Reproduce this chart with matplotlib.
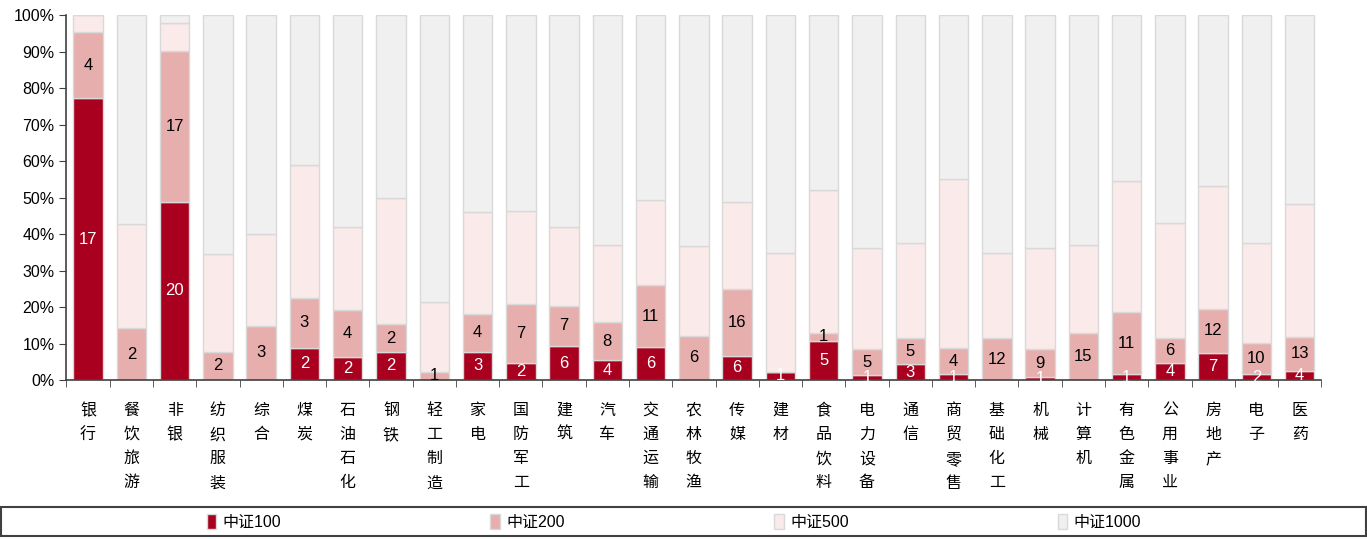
import matplotlib.pyplot as plt
import numpy as np
from matplotlib.patches import Rectangle
from matplotlib.ticker import PercentFormatter

plt.rcParams['font.family'] = ['Liberation Sans', 'Noto Sans CJK SC', 'DejaVu Sans']

industries = ['银行', '餐饮旅游', '非银', '纺织服装', '综合', '煤炭', '石油石化', '钢铁',
              '轻工制造', '家电', '国防军工', '建筑', '汽车', '交通运输', '农林牧渔', '传媒',
              '建材', '食品饮料', '电力设备', '通信', '商贸零售', '基础化工', '机械',
              '计算机', '有色金属', '公用事业', '房地产', '电子', '医药']

# share (%) of each index within the industry
csi100 = [77.2, 0, 48.8, 0, 0, 8.9, 6.3, 7.7, 0, 7.8, 4.7, 9.3, 5.4, 9.0, 0, 6.7,
          2.3, 10.8, 1.3, 4.3, 1.6, 0, 0.9, 0, 1.6, 4.7, 7.4, 1.6, 2.6]
csi200 = [18.2, 14.2, 41.3, 7.8, 14.9, 13.7, 13.0, 7.6, 2.3, 10.2, 16.2, 11.0, 10.5, 17.0, 12.1, 18.3,
          0, 2.1, 7.1, 7.1, 7.1, 11.4, 7.5, 12.9, 16.9, 6.7, 12.1, 8.5, 9.2]
csi500 = [4.6, 28.5, 7.6, 26.7, 25.0, 36.3, 22.7, 34.7, 19.0, 28.1, 25.5, 21.7, 21.0, 23.2, 24.5, 23.8,
          32.6, 39.3, 27.9, 26.2, 46.5, 23.5, 27.9, 24.0, 36.0, 31.6, 33.7, 27.5, 36.3]
csi1000 = [0, 57.3, 2.3, 65.5, 60.1, 41.1, 58.0, 50.0, 78.7, 53.9, 53.6, 58.0, 63.1, 50.8, 63.4, 51.2,
           65.1, 47.8, 63.7, 62.4, 44.8, 65.1, 63.7, 63.1, 45.5, 57.0, 46.8, 62.4, 51.9]

# number of stocks shown as labels
n100 = [17, 0, 20, 0, 0, 2, 2, 2, 0, 3, 2, 6, 4, 6, 0, 6, 1, 5, 1, 3, 1, 0, 1, 0, 1, 4, 7, 2, 4]
n200 = [4, 2, 17, 2, 3, 3, 4, 2, 1, 4, 7, 7, 8, 11, 6, 16, 0, 1, 5, 5, 4, 12, 9, 15, 11, 6, 12, 10, 13]

series = ['中证100', '中证200', '中证500', '中证1000']
colors = ['#a8001e', '#e6aeac', '#faeae9', '#f0f0f0']

fig = plt.figure(figsize=(13.67, 5.39), dpi=100)
ax = fig.add_axes([0.0486, 0.295, 0.918, 0.677])

x = np.arange(len(industries))
w = 0.68
bottom = np.zeros(len(industries))
for vals, c, name in zip([csi100, csi200, csi500, csi1000], colors, series):
    ax.bar(x, vals, w, bottom=bottom, color=c, edgecolor='#d9d9d9', linewidth=1, label=name)
    bottom += np.array(vals)

# labels on the 100 and 200 segments
for i in x:
    if n100[i]:
        ax.text(i, csi100[i] / 2, str(n100[i]), ha='center', va='center', color='white', fontsize=12)
    if n200[i]:
        ax.text(i, csi100[i] + csi200[i] / 2, str(n200[i]), ha='center', va='center', color='black', fontsize=12)

ax.set_xlim(-0.5, len(industries) - 0.5)
ax.set_ylim(0, 100)
ax.yaxis.set_major_locator(plt.MultipleLocator(10))
ax.yaxis.set_major_formatter(PercentFormatter(decimals=0))
ax.tick_params(axis='y', labelsize=11.5, direction='out', length=5, color='#404040')

ax.set_xticks(x)
ax.set_xticklabels(['\n'.join(s) for s in industries], fontsize=11.5, linespacing=1.76,
                   va='top')
ax.set_xticks(np.arange(-0.5, len(industries)), minor=True)
ax.tick_params(axis='x', which='major', length=0, pad=16.5)
ax.tick_params(axis='x', which='minor', length=5, direction='out', color='#404040')

for s in ['top', 'right']:
    ax.spines[s].set_visible(False)
for s in ['left', 'bottom']:
    ax.spines[s].set_color('#404040')
    ax.spines[s].set_linewidth(1.2)

# legend box across the bottom
fig.patches.append(Rectangle((0.001, 0.005), 0.998, 0.055, transform=fig.transFigure,
                             fill=False, edgecolor='#404040', linewidth=1.5))
fig.legend(loc='center', bbox_to_anchor=(0.493, 0.032), ncol=4, frameon=False,
           fontsize=11.5, handlelength=0.6, handleheight=1.1, handletextpad=0.4,
           columnspacing=13.1)

fig.savefig('out.png', dpi=100)
